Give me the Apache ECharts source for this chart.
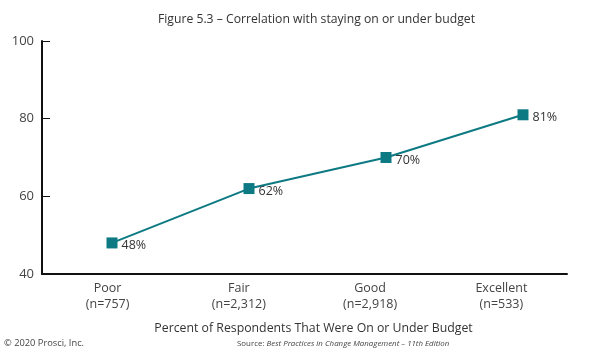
<!DOCTYPE html>
<html><head><meta charset="utf-8">
<script src="https://cdn.jsdelivr.net/npm/echarts@6/dist/echarts.min.js"></script>
<style>html,body{margin:0;padding:0;background:#fff}#c{width:600px;height:360px}</style>
</head><body><div id="c"></div>
<script>
const categories = ['Poor\n(n=757)', 'Fair\n(n=2,312)', 'Good\n(n=2,918)', 'Excellent\n(n=533)'];
const values = [48, 62, 70, 81];
const yTicks = [40, 60, 80, 100];
const titleText = 'Figure 5.3 – Correlation with staying on or under budget';
const xName = 'Percent of Respondents That Were On or Under Budget';
const font = '"Open Sans", "Noto Sans", sans-serif';
const chart = echarts.init(document.getElementById('c'));
const yMin = yTicks[0], yMax = yTicks[yTicks.length - 1];
chart.setOption({
  animation: false,
  textStyle: { fontFamily: font },
  title: { text: titleText, left: 153, top: 9,
    textStyle: { fontFamily: font, fontSize: 12.2, fontWeight: 'normal', color: '#333' } },
  grid: [
    { left: 42, right: 33, top: 41, bottom: 86 },
    { left: 112, right: 77, top: 41, bottom: 86 }
  ],
  xAxis: [{
    type: 'category', data: categories, boundaryGap: true, gridIndex: 0,
    axisLine: { lineStyle: { color: '#111', width: 2 } },
    axisTick: { inside: true, length: 5, lineStyle: { color: '#111', width: 1 } },
    axisLabel: { color: '#444', fontSize: 12.5, lineHeight: 16, margin: 6, fontFamily: font },
    name: xName, nameLocation: 'middle', nameGap: 48,
    nameTextStyle: { color: '#333', fontSize: 12.3, fontFamily: font, padding: [0, 0, 0, 18] }
  }, {
    type: 'category', data: categories, boundaryGap: false, gridIndex: 1, show: false
  }],
  yAxis: [{
    type: 'value', min: yMin, max: yMax, interval: 20, gridIndex: 0,
    splitLine: { show: false },
    axisLine: { show: true, lineStyle: { color: '#111', width: 2 } },
    axisTick: { show: true, inside: true, length: 8, lineStyle: { color: '#111', width: 1 } },
    axisLabel: { color: '#444', fontSize: 13, margin: 8, fontFamily: font }
  }, {
    type: 'value', min: yMin, max: yMax, interval: 20, gridIndex: 1, show: false,
    splitLine: { show: false }
  }],
  series: [{
    type: 'line', data: values, xAxisIndex: 1, yAxisIndex: 1,
    symbol: 'rect', symbolSize: 11,
    itemStyle: { color: '#0d7a83' },
    lineStyle: { color: '#0d7a83', width: 2 },
    label: { show: true, position: 'right', offset: [-1, 3], formatter: '{c}%',
      color: '#333', fontSize: 12.5, fontFamily: font }
  }],
  graphic: [
    { type: 'text', left: 4, top: 339, style: { text: '© 2020 Prosci, Inc.', fontSize: 9.3, fill: '#444', fontFamily: font } },
    { type: 'text', left: 237, top: 340, style: {
      text: '{r|Source: }{i|Best Practices in Change Management – 11th Edition}',
      rich: {
        r: { fontSize: 7.9, fill: '#444', fontFamily: font },
        i: { fontSize: 7.9, fill: '#444', fontStyle: 'italic', fontFamily: font }
      } } }
  ]
});
</script></body></html>
